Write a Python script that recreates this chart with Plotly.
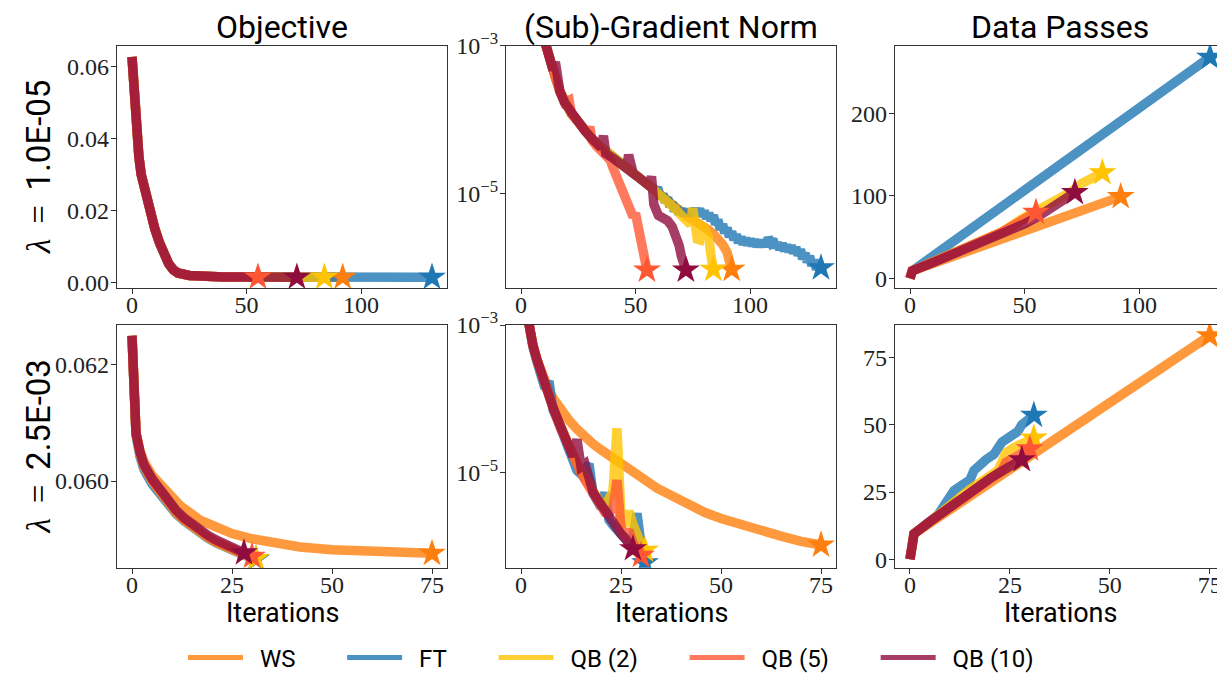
import plotly.graph_objects as go

# ---------------- colours ----------------
COL = {"WS": "#ff7f0e", "FT": "#1f77b4", "QB (2)": "#ffc300", "QB (5)": "#ff5733", "QB (10)": "#900c3f"}
ORDER = ["WS", "FT", "QB (2)", "QB (5)", "QB (10)"]

# ---------------- Objective, lambda = 1.0E-05 ----------------
obj1_base_x = [0, 1, 2, 3, 4, 6, 8, 10, 12, 14, 16, 18, 20, 25, 30, 40, 50]
obj1_base_y = [0.0627, 0.0500, 0.0410, 0.0350, 0.0300, 0.0240, 0.0190, 0.0148, 0.0110, 0.0078,
               0.0052, 0.0035, 0.0026, 0.0019, 0.0016, 0.00150, 0.00146]
obj1_ws_x = obj1_base_x + [60, 70, 80, 92]
obj1_ws_y = obj1_base_y + [0.00144, 0.00142, 0.00141, 0.00141]
obj1_ft_x = obj1_base_x + [60, 70, 80, 90, 100, 110, 120, 131]
obj1_ft_y = obj1_base_y + [0.00144, 0.00142, 0.00141, 0.00141, 0.00140, 0.00140, 0.00140, 0.00140]
obj1_qb2_x = obj1_base_x + [60, 70, 84]
obj1_qb2_y = obj1_base_y + [0.00144, 0.00142, 0.00141]
obj1_qb5_x = obj1_base_x + [55]
obj1_qb5_y = obj1_base_y + [0.00145]
obj1_qb10_x = obj1_base_x + [60, 72]
obj1_qb10_y = obj1_base_y + [0.00144, 0.00142]

# ---------------- Objective, lambda = 2.5E-03 ----------------
obj2_qb_x = [0, 1, 2, 3, 5, 7, 9, 11, 13, 15, 17, 19, 21, 23, 25, 28]
obj2_qb10_x = obj2_qb_x
obj2_qb10_y = [0.06249, 0.06082, 0.06050, 0.06028, 0.06004, 0.05985, 0.05966, 0.05950, 0.05937,
               0.05926, 0.05916, 0.05907, 0.05899, 0.05892, 0.05886, 0.05877]
obj2_qb5_x = obj2_qb_x + [30]
obj2_qb5_y = [0.06249, 0.06082, 0.06048, 0.06026, 0.06001, 0.05982, 0.05963, 0.05947, 0.05934,
              0.05923, 0.05913, 0.05904, 0.05896, 0.05889, 0.05883, 0.05875, 0.05871]
obj2_qb2_x = obj2_qb_x + [31]
obj2_qb2_y = [0.06249, 0.06082, 0.06047, 0.06025, 0.06000, 0.05981, 0.05962, 0.05946, 0.05933,
              0.05922, 0.05912, 0.05903, 0.05895, 0.05888, 0.05882, 0.05874, 0.05867]
obj2_ft_x = obj2_qb_x + [31]
obj2_ft_y = [0.06249, 0.06078, 0.06042, 0.06020, 0.05995, 0.05977, 0.05959, 0.05944, 0.05932,
             0.05921, 0.05911, 0.05902, 0.05894, 0.05887, 0.05881, 0.05873, 0.05866]
obj2_ws_x = [0, 1, 2, 3, 5, 8, 12, 17, 21, 25, 30, 35, 42, 50, 58, 67, 75]
obj2_ws_y = [0.06249, 0.06082, 0.06052, 0.06033, 0.06010, 0.05985, 0.05958, 0.05933, 0.05920,
             0.05910, 0.05901, 0.05894, 0.05887, 0.05882, 0.05879, 0.05877, 0.05876]

# ---------------- Gradient norm (log10 values), lambda = 1.0E-05 ----------------
gn1_main_x = [0, 2, 4, 6, 8, 10, 11, 13, 15, 17, 19, 22, 25, 28, 31, 34, 37, 40, 43, 46, 49, 52, 55, 58]
gn1_main_y = [-1.3, -1.75, -2.1, -2.4, -2.65, -2.9, -3.03, -3.2, -3.43, -3.62, -3.77, -3.92, -4.03,
              -4.16, -4.26, -4.35, -4.43, -4.52, -4.59, -4.66, -4.73, -4.80, -4.87, -4.95]
gn1_ft_x = gn1_main_x + list(range(60, 132))
gn1_ft_y = gn1_main_y + [
    -4.96, -5.07, -5.01, -5.12, -5.06, -5.18, -5.13, -5.24, -5.19, -5.28,
    -5.21, -5.30, -5.22, -5.30, -5.22, -5.29, -5.21, -5.29, -5.21, -5.31,
    -5.24, -5.34, -5.27, -5.37, -5.30, -5.42, -5.36, -5.49, -5.42, -5.54,
    -5.47, -5.59, -5.52, -5.63, -5.56, -5.67, -5.59, -5.69, -5.61, -5.70,
    -5.62, -5.71, -5.63, -5.72, -5.64, -5.72, -5.64, -5.72, -5.60, -5.66,
    -5.62, -5.74, -5.67, -5.76, -5.68, -5.78, -5.70, -5.79, -5.71, -5.81,
    -5.73, -5.84, -5.76, -5.89, -5.81, -5.93, -5.85, -5.98, -5.90, -6.03,
    -5.96, -6.01]
gn1_qb2_x = gn1_main_x + [62, 65, 68, 70, 72, 74, 75, 76, 77, 78, 79, 80, 81, 82, 83, 84]
gn1_qb2_y = gn1_main_y + [-5.04, -5.13, -5.23, -5.30, -5.36, -5.42, -5.20, -5.56, -5.62, -5.63,
                          -5.45, -5.47, -5.52, -5.60, -5.85, -6.03]
gn1_ws_x = gn1_main_x + [62, 65, 68, 70, 72, 75, 78, 80, 82, 84, 86, 88, 90, 91, 92]
gn1_ws_y = gn1_main_y + [-5.05, -5.13, -5.22, -5.26, -5.30, -5.36, -5.41, -5.46, -5.50, -5.55,
                         -5.60, -5.69, -5.80, -5.90, -6.03]
gn1_qb5_x = [0, 2, 4, 6, 8, 10, 11, 13, 15, 17, 19, 21, 22, 25, 28, 29, 30, 31, 33, 35, 37, 39, 40,
             42, 44, 46, 48, 49, 50, 51, 52, 53, 54, 55]
gn1_qb5_y = [-1.3, -1.75, -2.1, -2.4, -2.65, -2.9, -3.03, -3.2, -3.43, -3.62, -3.77, -3.74, -3.92,
             -4.03, -4.16, -4.18, -4.10, -4.28, -4.36, -4.42, -4.47, -4.55, -4.64, -4.80, -4.95,
             -5.15, -5.28, -5.32, -5.27, -5.45, -5.63, -5.78, -5.92, -6.04]
gn1_qb10_x = [0, 2, 4, 6, 8, 10, 11, 13, 14, 15, 16, 17, 19, 22, 25, 28, 31, 34, 35, 36, 37, 40, 43,
              45, 46, 47, 48, 49, 52, 55, 56, 57, 58, 60, 62, 64, 66, 67, 68, 69, 70, 71, 72]
gn1_qb10_y = [-1.3, -1.75, -2.1, -2.4, -2.65, -2.9, -3.03, -3.2, -3.33, -3.22, -3.52, -3.62, -3.77,
              -3.92, -4.03, -4.16, -4.26, -4.35, -4.38, -4.22, -4.46, -4.52, -4.59, -4.64, -4.66,
              -4.48, -4.72, -4.73, -4.80, -4.87, -4.90, -4.77, -5.15, -5.30, -5.34, -5.37, -5.45,
              -5.52, -5.56, -5.70, -5.85, -5.96, -6.04]

# ---------------- Gradient norm (log10 values), lambda = 2.5E-03 ----------------
gn2_qb10_x = list(range(0, 29))
gn2_qb10_y = [-2.4, -2.75, -3.05, -3.28, -3.47, -3.65, -3.82, -3.97, -4.12, -4.25, -4.39, -4.52,
              -4.65, -4.78, -4.55, -4.92, -4.88, -5.14, -5.26, -5.35, -5.44, -5.53, -5.61, -5.69,
              -5.76, -5.83, -5.89, -5.95, -6.03]
gn2_ft_x = list(range(0, 32))
gn2_ft_y = [-2.4, -2.75, -3.06, -3.30, -3.50, -3.68, -3.86, -3.76, -4.15, -4.27, -4.41, -4.55,
            -4.68, -4.80, -4.97, -5.02, -4.97, -4.88, -5.28, -5.38, -5.47, -5.27, -5.64, -5.71,
            -5.78, -5.84, -5.90, -5.95, -5.88, -5.55, -5.97, -6.22]
gn2_qb2_x = list(range(0, 32))
gn2_qb2_y = [-2.4, -2.75, -3.05, -3.28, -3.47, -3.65, -3.82, -3.97, -4.12, -4.25, -4.39, -4.52,
             -4.65, -4.76, -4.87, -4.98, -5.08, -5.17, -5.26, -5.35, -5.42, -5.45, -5.35, -5.25,
             -4.40, -5.62, -5.72, -5.52, -5.70, -5.88, -5.97, -6.05]
gn2_qb5_x = list(range(0, 31))
gn2_qb5_y = [-2.4, -2.75, -3.05, -3.28, -3.47, -3.65, -3.84, -3.99, -4.14, -4.27, -4.41, -4.54,
             -4.67, -4.78, -4.89, -5.00, -5.10, -5.19, -5.28, -5.37, -5.46, -5.54, -5.55, -5.48,
             -5.10, -5.75, -5.85, -5.78, -5.95, -6.05, -6.12]
gn2_ws_x = [0, 1, 2, 3, 4, 5, 6, 7, 8, 9, 10, 12, 14, 16, 18, 20, 22, 25, 28, 30, 34, 38, 42, 46,
            50, 55, 60, 65, 70, 75]
gn2_ws_y = [-2.4, -2.75, -3.05, -3.28, -3.47, -3.63, -3.77, -3.89, -3.99, -4.07, -4.15, -4.29,
            -4.41, -4.52, -4.61, -4.69, -4.77, -4.88, -4.99, -5.06, -5.21, -5.33, -5.44, -5.54,
            -5.62, -5.71, -5.78, -5.86, -5.93, -5.98]

# ---------------- Data passes, lambda = 1.0E-05 ----------------
dp1_ws_x = [0, 1, 92]
dp1_ws_y = [0, 9, 99]
dp1_ft_x = [0, 1, 131]
dp1_ft_y = [0, 9, 268]
dp1_qb2_x = [0, 1, 10, 20, 30, 40, 50, 55, 60, 66, 70, 75, 80, 84]
dp1_qb2_y = [0, 9, 20, 31, 43, 56, 74, 81, 88, 99, 104, 115, 121, 128]
dp1_qb5_x = [0, 1, 10, 20, 30, 40, 50, 55]
dp1_qb5_y = [0, 9, 19.5, 31, 43, 56, 72, 80]
dp1_qb10_x = [0, 1, 10, 20, 30, 40, 50, 56, 60, 65, 68, 72]
dp1_qb10_y = [0, 9, 19, 30, 41, 53, 66, 75, 82, 92, 99, 104]

# ---------------- Data passes, lambda = 2.5E-03 ----------------
dp2_ws_x = [0, 1, 75]
dp2_ws_y = [0, 9.5, 83]
dp2_ft_x = [0, 1, 7, 8, 9, 10, 11, 13, 15, 16, 17, 19, 21, 22, 23, 25, 27, 28, 29, 31]
dp2_ft_y = [0, 9.5, 16.5, 19, 21, 24, 25.5, 27.5, 29.5, 33, 34.5, 37, 39, 42, 43.5, 45.5, 47.5,
            50, 51.5, 53.5]
dp2_qb2_x = [0, 1, 5, 8, 10, 15, 20, 22, 23, 24, 26, 28, 31]
dp2_qb2_y = [0, 9.5, 14, 17.5, 20.5, 26, 31, 33, 36, 39.5, 41.5, 43, 45]
dp2_qb5_x = [0, 1, 5, 10, 15, 20, 23, 24, 26, 28, 30]
dp2_qb5_y = [0, 9.5, 14, 19.5, 25, 30.5, 33, 36, 38, 39.5, 41]
dp2_qb10_x = [0, 1, 5, 10, 15, 20, 25, 28]
dp2_qb10_y = [0, 9.5, 14, 19.5, 25, 30, 34.5, 37]

# ---------------- text ----------------
col_titles = ["Objective", "(Sub)-Gradient Norm", "Data Passes"]
LAM = '<span style="font-family:Liberation Serif, DejaVu Serif, serif"><i>λ</i>\u2009 = \u2009</span>'
row_titles = [LAM + "1.0E-05", LAM + "2.5E-03"]
x_label = "Iterations"


def rgba(h, a):
    h = h.lstrip("#")
    return "rgba(%d,%d,%d,%.2f)" % (int(h[0:2], 16), int(h[2:4], 16), int(h[4:6], 16), a)


def exp10(v):
    return [10 ** e for e in v]


panels = {
    1: {"WS": (obj1_ws_x, obj1_ws_y), "FT": (obj1_ft_x, obj1_ft_y), "QB (2)": (obj1_qb2_x, obj1_qb2_y),
        "QB (5)": (obj1_qb5_x, obj1_qb5_y), "QB (10)": (obj1_qb10_x, obj1_qb10_y)},
    2: {"WS": (gn1_ws_x, exp10(gn1_ws_y)), "FT": (gn1_ft_x, exp10(gn1_ft_y)),
        "QB (2)": (gn1_qb2_x, exp10(gn1_qb2_y)), "QB (5)": (gn1_qb5_x, exp10(gn1_qb5_y)),
        "QB (10)": (gn1_qb10_x, exp10(gn1_qb10_y))},
    3: {"WS": (dp1_ws_x, dp1_ws_y), "FT": (dp1_ft_x, dp1_ft_y), "QB (2)": (dp1_qb2_x, dp1_qb2_y),
        "QB (5)": (dp1_qb5_x, dp1_qb5_y), "QB (10)": (dp1_qb10_x, dp1_qb10_y)},
    4: {"WS": (obj2_ws_x, obj2_ws_y), "FT": (obj2_ft_x, obj2_ft_y), "QB (2)": (obj2_qb2_x, obj2_qb2_y),
        "QB (5)": (obj2_qb5_x, obj2_qb5_y), "QB (10)": (obj2_qb10_x, obj2_qb10_y)},
    5: {"WS": (gn2_ws_x, exp10(gn2_ws_y)), "FT": (gn2_ft_x, exp10(gn2_ft_y)),
        "QB (2)": (gn2_qb2_x, exp10(gn2_qb2_y)), "QB (5)": (gn2_qb5_x, exp10(gn2_qb5_y)),
        "QB (10)": (gn2_qb10_x, exp10(gn2_qb10_y))},
    6: {"WS": (dp2_ws_x, dp2_ws_y), "FT": (dp2_ft_x, dp2_ft_y), "QB (2)": (dp2_qb2_x, dp2_qb2_y),
        "QB (5)": (dp2_qb5_x, dp2_qb5_y), "QB (10)": (dp2_qb10_x, dp2_qb10_y)},
}

NBSP = "\u00a0"
legend_label = {n: NBSP * 2 + n + NBSP * 7 for n in ORDER}

fig = go.Figure()
LW = 9.5
for k, series in panels.items():
    xa, ya = "x%d" % k, "y%d" % k
    for name in ORDER:
        x, y = series[name]
        fig.add_trace(go.Scatter(x=x, y=y, mode="lines", xaxis=xa, yaxis=ya, name=name,
                                 legendgroup=name, showlegend=False,
                                 line=dict(color=rgba(COL[name], 0.8), width=LW),
                                 hoverinfo="skip"))
    for name in ORDER:
        x, y = series[name]
        fig.add_trace(go.Scatter(x=[x[-1]], y=[y[-1]], mode="markers", xaxis=xa, yaxis=ya,
                                 marker=dict(symbol="star", size=21, color=COL[name], line=dict(width=0)),
                                 cliponaxis=True, showlegend=False, hoverinfo="skip"))

# legend entries (thinner line, as in the reference legend)
for name in ORDER:
    fig.add_trace(go.Scatter(x=[None], y=[None], mode="lines", name=legend_label[name],
                             legendgroup=name, xaxis="x1", yaxis="y1", hoverinfo="skip",
                             line=dict(color=rgba(COL[name], 0.8), width=5)))

W, H = 1217, 673
col_dom = [[117 / W, 447 / W], [506 / W, 836 / W], [895 / W, 1.0]]
row_dom = [[1 - 288.3 / H, 1 - 45.7 / H], [1 - 567.7 / H, 1 - 325 / H]]

TICKFONT = dict(family="Liberation Serif, DejaVu Serif, serif", size=24, color="#222")
SANS = "Roboto, Noto Sans, DejaVu Sans, sans-serif"
axis_common = dict(showline=True, linecolor="#333", linewidth=1.3, ticks="outside", ticklen=5,
                   tickwidth=1.2, tickcolor="#333", showgrid=False, zeroline=False, tickfont=TICKFONT,
                   automargin=False, ticklabeloverflow="allow")

x_ranges = {1: [-6.55, 137.55], 2: [-6.55, 137.55], 3: [-6.55, 134.05],
            4: [-3.75, 78.75], 5: [-3.75, 78.75], 6: [-3.75, 76.83]}
x_ticks = {1: [0, 50, 100], 2: [0, 50, 100], 3: [0, 50, 100],
           4: [0, 25, 50, 75], 5: [0, 25, 50, 75], 6: [0, 25, 50, 75]}
y_ranges = {1: [-0.00167, 0.0658], 2: [-6.287, -3.0], 3: [-12.1, 281.9],
            4: [0.058514, 0.062674], 5: [-6.287, -3.0], 6: [-3.1, 87.0]}
y_ticks = {1: [0.0, 0.02, 0.04, 0.06], 3: [0, 100, 200], 4: [0.060, 0.062], 6: [0, 25, 50, 75]}
y_fmt = {1: ".2f", 3: "d", 4: ".3f", 6: "d"}

layout = dict(width=W, height=H, margin=dict(l=0, r=0, t=0, b=0, autoexpand=False),
              paper_bgcolor="white", plot_bgcolor="white", showlegend=True)
for k in range(1, 7):
    r = (k - 1) // 3
    c = (k - 1) % 3
    xa = dict(axis_common, domain=col_dom[c], range=x_ranges[k], tickvals=x_ticks[k],
              anchor="y%d" % k, mirror=True, ticklabelstandoff=-10)
    ya = dict(axis_common, domain=row_dom[r], range=y_ranges[k], anchor="x%d" % k,
              mirror=(c != 2), ticklabelstandoff=-3)
    if c == 1:
        ya.update(type="log", tickvals=[1e-5, 1e-3],
                  ticktext=["10<sup>−5</sup>", "10<sup>−3</sup>"])
    else:
        ya.update(tickvals=y_ticks[k], tickformat=y_fmt[k])
    layout["xaxis" if k == 1 else "xaxis%d" % k] = xa
    layout["yaxis" if k == 1 else "yaxis%d" % k] = ya

ann = []
col_centers = [282 / W, 671 / W, 1060 / W]
for c, t in enumerate(col_titles):
    ann.append(dict(text=t, x=col_centers[c], y=1 - 27 / H, xref="paper", yref="paper",
                    xanchor="center", yanchor="middle", showarrow=False,
                    font=dict(family=SANS, size=32, color="black")))
row_centers = [1 - 167 / H, 1 - 446.5 / H]
for r, t in enumerate(row_titles):
    ann.append(dict(text=t, x=38 / W, y=row_centers[r], xref="paper", yref="paper", textangle=-90,
                    xanchor="center", yanchor="middle", showarrow=False,
                    font=dict(family=SANS, size=33, color="black")))
for c in range(3):
    ann.append(dict(text=x_label, x=col_centers[c], y=1 - 613 / H, xref="paper", yref="paper",
                    xanchor="center", yanchor="middle", showarrow=False,
                    font=dict(family=SANS, size=27, color="black")))
layout["annotations"] = ann
layout["legend"] = dict(orientation="h", x=183 / W, xanchor="left", y=1 - 658 / H, yanchor="middle",
                        font=dict(family=SANS, size=24, color="black"),
                        bgcolor="rgba(0,0,0,0)", itemwidth=55, tracegroupgap=0)
fig.update_layout(**layout)
fig.write_html("out.html", config={"displayModeBar": False},
               post_script="document.body.style.margin='0px';document.body.style.padding='0px';")
